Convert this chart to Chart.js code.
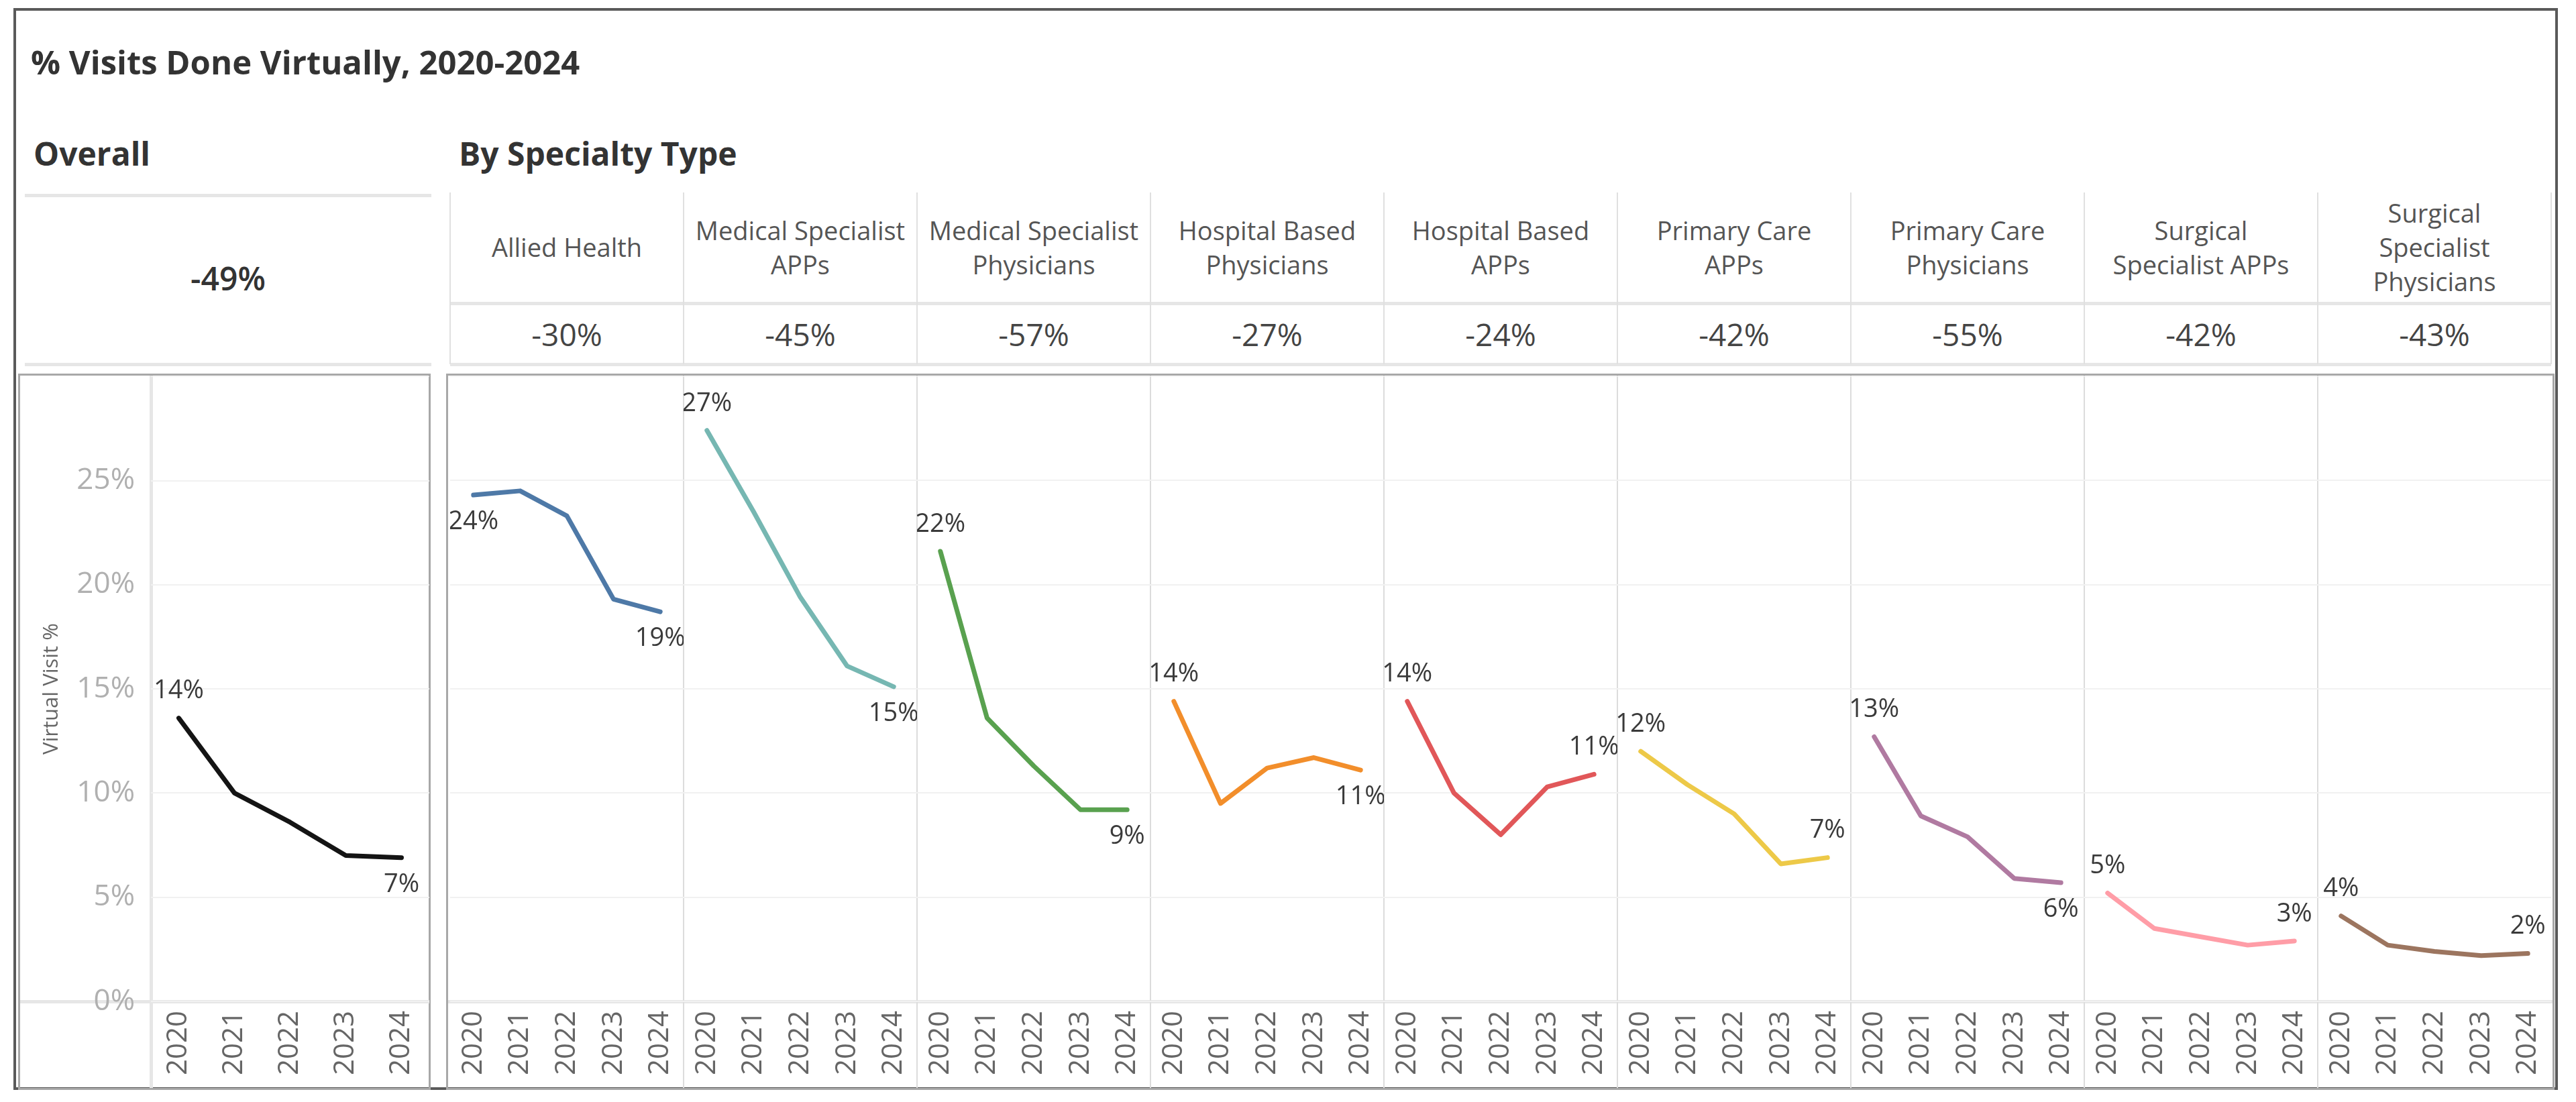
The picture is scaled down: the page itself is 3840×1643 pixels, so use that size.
<!DOCTYPE html>
<html>
<head>
<meta charset="utf-8">
<script src="https://cdn.jsdelivr.net/npm/chart.js@4.4.1/dist/chart.umd.min.js"></script>
<style>
  body { margin: 0; width: 3840px; height: 1643px; background: #fff; position: relative; overflow: hidden; font-family: "Open Sans", sans-serif; }
  .abs { position: absolute; box-sizing: border-box; }
  .band { position: absolute; background: #e6e6e6; }
  .vline { position: absolute; background: #e0e0e0; width: 2px; }
  .head { font-weight: 700; font-size: 48px; color: #333; line-height: 60px; height: 60px; white-space: nowrap; }
  .name { display: flex; align-items: center; justify-content: center; text-align: center; white-space: pre-line; font-size: 38px; line-height: 51px; color: #555; }
  .val { display: flex; align-items: center; justify-content: center; font-size: 46px; color: #444; }
  canvas { position: absolute; }
</style>
</head>
<body>
<div class="abs" style="left:20px;top:12px;width:3793px;height:1613px;border:4px solid #5a5a5a;"></div>
<div class="abs head" style="left:46px;top:62px;font-size:49px;">% Visits Done Virtually, 2020-2024</div>
<div class="abs head" style="left:50px;top:199px;">Overall</div>
<div class="abs head" style="left:684px;top:199px;">By Specialty Type</div>

<div id="layer"></div>

<script>
/* data */
const years = ['2020', '2021', '2022', '2023', '2024'];
const yTickLabels = ['0%', '5%', '10%', '15%', '20%', '25%'];

const overallValues = [13.6, 10.0, 8.6, 7.0, 6.9];
const overallChange = '-49%';

const specialtyNames = [
  'Allied Health',
  'Medical Specialist\nAPPs',
  'Medical Specialist\nPhysicians',
  'Hospital Based\nPhysicians',
  'Hospital Based\nAPPs',
  'Primary Care\nAPPs',
  'Primary Care\nPhysicians',
  'Surgical\nSpecialist APPs',
  'Surgical\nSpecialist\nPhysicians'
];
const specialtyChange = ['-30%', '-45%', '-57%', '-27%', '-24%', '-42%', '-55%', '-42%', '-43%'];

const alliedHealth       = [24.3, 24.5, 23.3, 19.3, 18.7];
const medSpecAPPs        = [27.4, 23.5, 19.4, 16.1, 15.1];
const medSpecPhysicians  = [21.6, 13.6, 11.3, 9.2, 9.2];
const hospPhysicians     = [14.4, 9.5, 11.2, 11.7, 11.1];
const hospAPPs           = [14.4, 10.0, 8.0, 10.3, 10.9];
const primaryAPPs        = [12.0, 10.4, 9.0, 6.6, 6.9];
const primaryPhysicians  = [12.7, 8.9, 7.9, 5.9, 5.7];
const surgicalAPPs       = [5.2, 3.5, 3.1, 2.7, 2.9];
const surgicalPhysicians = [4.1, 2.7, 2.4, 2.2, 2.3];

const specialtySeries = [alliedHealth, medSpecAPPs, medSpecPhysicians, hospPhysicians, hospAPPs,
  primaryAPPs, primaryPhysicians, surgicalAPPs, surgicalPhysicians];
const specialtyColors = ['#4e79a7', '#76b7b2', '#59a14f', '#f28e2b', '#e15759', '#edc948', '#b07aa1', '#ff9da7', '#9c755f'];
const firstLabelPos = ['below', 'above', 'above', 'above', 'above', 'above', 'above', 'above', 'above'];
const lastLabelPos  = ['below', 'below', 'below', 'below', 'above', 'above', 'below', 'above', 'above'];

/* layout */
const colLeft = 671, colW = 348, panelTop = 561, panelH = 1061, axisY = 1493;
const layer = document.getElementById('layer');

function box(cls, style, text) {
  const d = document.createElement('div');
  d.className = cls;
  d.style.cssText = style;
  if (text !== undefined) d.textContent = text;
  layer.appendChild(d);
  return d;
}

// overall header cell
box('band', 'left:37px;top:289px;width:606px;height:5px;');
box('band', 'left:37px;top:541px;width:606px;height:5px;');
box('abs val', 'left:37px;top:378px;width:606px;height:72px;font-size:48px;font-weight:600;color:#333;', overallChange);

// specialty header cells
box('band', 'left:671px;top:450px;width:3132px;height:5px;');
box('band', 'left:671px;top:541px;width:3132px;height:5px;');
for (let i = 0; i <= specialtyNames.length; i++) {
  box('vline', `left:${colLeft + i * colW - 1}px;top:287px;height:256px;`);
}
specialtyNames.forEach((n, i) => {
  box('abs name', `left:${colLeft + i * colW}px;top:287px;width:${colW}px;height:163px;`, n);
  box('abs val', `left:${colLeft + i * colW}px;top:455px;width:${colW}px;height:86px;`, specialtyChange[i]);
});

// chart panels
box('abs', 'left:27px;top:557px;width:615px;height:1068px;border:3px solid #a8a8a8;');
box('abs', 'left:665px;top:557px;width:3143px;height:1068px;border:3px solid #a8a8a8;');
box('band', 'left:223px;top:560px;width:5px;height:1062px;');
box('band', `left:30px;top:${axisY - 2}px;width:610px;height:5px;`);
box('band', `left:668px;top:${axisY - 2}px;width:3137px;height:5px;`);
for (let i = 1; i < specialtyNames.length; i++) {
  box('vline', `left:${colLeft + i * colW - 1}px;top:560px;height:1062px;background:#dcdcdc;`);
}

/* charts */
Chart.defaults.font.family = '"Open Sans", sans-serif';

const endLabels = {
  id: 'endLabels',
  afterDatasetsDraw(chart, args, opts) {
    const ctx = chart.ctx;
    const pts = chart.getDatasetMeta(0).data;
    const vals = chart.data.datasets[0].data;
    ctx.save();
    ctx.font = '38px "Open Sans", sans-serif';
    ctx.fillStyle = '#3a3a3a';
    ctx.textAlign = 'center';
    ctx.textBaseline = 'middle';
    [[0, opts.first], [pts.length - 1, opts.last]].forEach(([i, pos]) => {
      const dy = pos === 'above' ? -40 : 40;
      ctx.fillText(Math.round(vals[i]) + '%', pts[i].x, pts[i].y + dy);
    });
    ctx.restore();
  }
};

function makeChart(left, width, values, color, first, last, withAxis) {
  const cv = document.createElement('canvas');
  cv.width = width;
  cv.height = panelH;
  cv.style.left = left + 'px';
  cv.style.top = panelTop + 'px';
  layer.appendChild(cv);

  new Chart(cv, {
    type: 'line',
    data: {
      labels: years,
      datasets: [{
        data: values,
        borderColor: color,
        borderWidth: 7,
        borderCapStyle: 'round',
        borderJoinStyle: 'round',
        pointRadius: 0,
        tension: 0
      }]
    },
    plugins: [endLabels],
    options: {
      responsive: false,
      animation: false,
      devicePixelRatio: 1,
      layout: { padding: 0 },
      plugins: {
        legend: { display: false },
        tooltip: { enabled: false },
        endLabels: { first: first, last: last }
      },
      scales: {
        x: {
          offset: true,
          grid: { display: false, drawTicks: false },
          border: { display: false },
          ticks: {
            minRotation: 90,
            maxRotation: 90,
            padding: 14,
            color: '#666',
            font: { size: 42, lineHeight: 0.01 }
          },
          afterFit: s => { s.height = panelTop + panelH - axisY; }
        },
        y: {
          min: 0,
          max: 30,
          border: { display: false },
          grid: {
            color: '#f1f1f1',
            lineWidth: 2,
            drawTicks: withAxis,
            tickLength: 24,
            tickColor: 'rgba(0,0,0,0)'
          },
          ticks: {
            display: withAxis,
            stepSize: 5,
            padding: 0,
            color: '#b0b0b0',
            font: { size: 44, lineHeight: 0.01 },
            callback: (v, i) => yTickLabels[i] ?? ''
          },
          title: {
            display: withAxis,
            text: 'Virtual Visit %',
            color: '#666',
            font: { size: 31 },
            padding: { top: 30, bottom: 0 }
          },
          afterFit: s => { s.width = withAxis ? 196 : 0; }
        }
      }
    }
  });
}

makeChart(29, 611, overallValues, '#141414', 'above', 'below', true);
specialtySeries.forEach((vals, i) => {
  makeChart(colLeft + i * colW, colW, vals, specialtyColors[i], firstLabelPos[i], lastLabelPos[i], false);
});
</script>
</body>
</html>
